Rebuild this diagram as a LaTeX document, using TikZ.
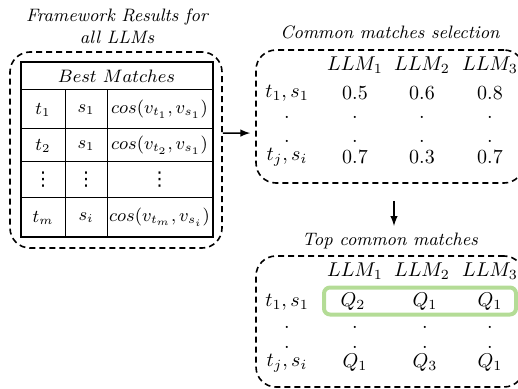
\documentclass[tikz,border=0pt]{standalone}
\usepackage{fontspec}
\newfontfamily\dotsfont{DejaVu Sans}
\usetikzlibrary{positioning}
\definecolor{matchgreen}{RGB}{180,220,150}
\tikzset{
    BX/.style ={rectangle,draw,dash pattern=on 3pt off 2pt,line width=0.8pt,rounded corners=10pt,inner sep=0pt},
    CE/.style ={rectangle,draw,inner sep=0pt,font=\small,line width=0.5pt},
    W1/.style ={CE,minimum width=22pt},
    W2/.style ={CE,minimum width=21pt},
    W3/.style ={CE,minimum width=52.5pt},
    VD/.style ={inner sep=0pt,font=\fontsize{9.5}{9.5}\dotsfont},
    TT/.style ={font=\small\itshape,align=center},
    EN/.style ={font=\normalsize},
    DT/.style ={anchor=base,inner sep=0pt},
    AR/.style ={-latex,line width=0.7pt}}

\begin{document}
\begin{tikzpicture}[x=0.5pt,y=-0.5pt]
        \useasboundingbox (0,0) rectangle (518,389);
        % framework results
        \node[TT] (T1) at(117,26){Framework Results for\\all LLMs};
        \node[BX,minimum width=106pt,minimum height=98pt] (L) at(116,150){};
        \node[CE,minimum width=95.5pt,minimum height=13.5pt] (H) at(116.5,76.5){$Best\ Matches$};
        \node[W1,minimum height=19.5pt] (a1) at(43,109.5){$t_1$};
        \node[W2,minimum height=19.5pt] (b1) at(86,109.5){$s_1$};
        \node[W3,minimum height=19.5pt] (c1) at(159.5,109.5){$cos(v_{t_1},v_{s_1})$};
        \node[W1,minimum height=16.5pt] (a2) at(43,145.5){$t_2$};
        \node[W2,minimum height=16.5pt] (b2) at(86,145.5){$s_1$};
        \node[W3,minimum height=16.5pt] (c2) at(159.5,145.5){$cos(v_{t_2},v_{s_1})$};
        \node[W1,minimum height=18pt] (a3) at(43,180){};
        \node[W2,minimum height=18pt] (b3) at(86,180){};
        \node[W3,minimum height=18pt] (c3) at(159.5,180){};
        \node[VD] (d1) at(a3){⋮};
        \node[VD] (d2) at(b3){⋮};
        \node[VD] (d3) at(c3){⋮};
        \node[W1,minimum height=19.5pt] (a4) at(43,217.5){$t_m$};
        \node[W2,minimum height=19.5pt] (b4) at(86,217.5){$s_i$};
        \node[W3,minimum height=19.5pt] (c4) at(159.5,217.5){$cos(v_{t_m},v_{s_i})$};
        \draw[line width=1pt] (H.north west) rectangle (c4.south east);
        % common matches selection
        \node[TT] (T2) at(390,32){Common matches selection};
        \node[BX,minimum width=134pt,minimum height=66.5pt] (R1) at(390,116.5){};
        \node[EN] (p1) at(355,65){$LLM_1$};
        \node[EN] (p2) at(422,65){$LLM_2$};
        \node[EN] (p3) at(490,65){$LLM_3$};
        \node[EN] (p4) at(287,93){$t_1,s_1$};
        \node[EN] (p5) at(355,93){$0.5$};
        \node[EN] (p6) at(422,93){$0.6$};
        \node[EN] (p7) at(490,93){$0.8$};
        \node[EN] (p8) at(287,157){$t_j,s_i$};
        \node[EN] (p9) at(355,157){$0.7$};
        \node[EN] (p10) at(422,157){$0.3$};
        \node[EN] (p11) at(490,157){$0.7$};
        \foreach \x in {287,355,422,490}{
            \node[DT] (u\x) at(\x,119){.};
            \node[DT] (v\x) at(\x,143){.};}
        % top common matches
        \node[TT] (T3) at(390,241){Top common matches};
        \node[BX,minimum width=134pt,minimum height=65.5pt] (R2) at(390,321.5){};
        \node[rectangle,draw=matchgreen,line width=2pt,rounded corners=3pt,minimum width=96pt,minimum height=13.5pt] (G) at(420,301){};
        \node[EN] (q1) at(355,271){$LLM_1$};
        \node[EN] (q2) at(422,271){$LLM_2$};
        \node[EN] (q3) at(490,271){$LLM_3$};
        \node[EN] (q4) at(287,302){$t_1,s_1$};
        \node[EN] (q5) at(353,302){$Q_2$};
        \node[EN] (q6) at(425,302){$Q_1$};
        \node[EN] (q7) at(490,302){$Q_1$};
        \node[EN] (q8) at(287,363){$t_j,s_i$};
        \node[EN] (q9) at(355,363){$Q_1$};
        \node[EN] (q10) at(425,363){$Q_3$};
        \node[EN] (q11) at(490,363){$Q_1$};
        \foreach \x in {287,355,425,490}{
            \node[DT] (w\x) at(\x,328){.};
            \node[DT] (z\x) at(\x,348){.};}
        % arrows
        \draw[AR,shorten >=2.5pt] (L.9) -- (R1.187);
        \draw[AR] ([shift={(2pt,-8.5pt)}]R1.south) -- ([xshift=2pt]T3.north);
    \end{tikzpicture}
\end{document}
